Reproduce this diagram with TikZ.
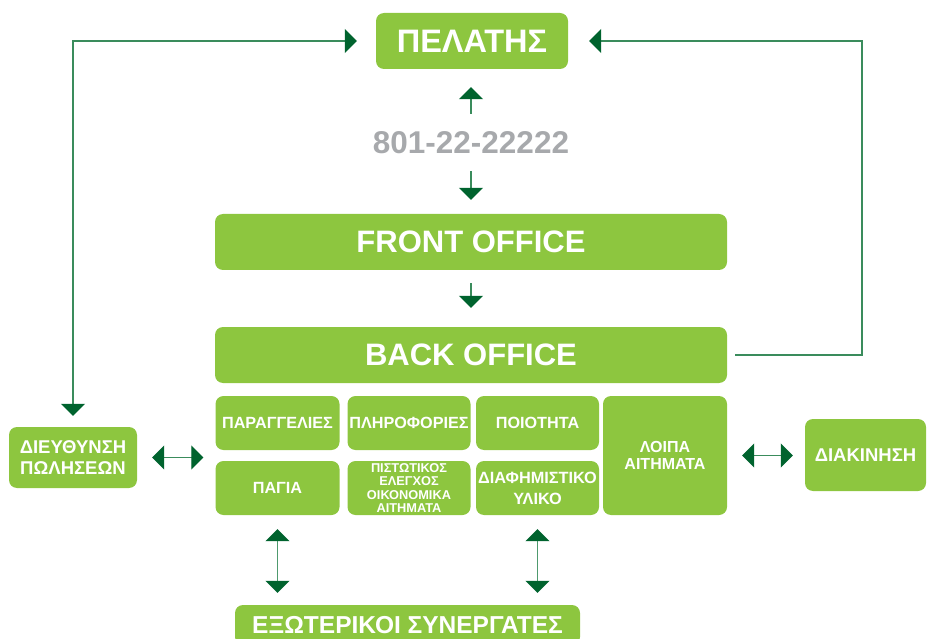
\documentclass[tikz,border=0pt]{standalone}
\usepackage{fontspec}
\setmainfont{Liberation Sans}
\usetikzlibrary{arrows.meta}
\definecolor{boxgreen}{HTML}{8DC63F}
\definecolor{tipgreen}{HTML}{00632E}
\definecolor{linegreen}{HTML}{3A8C5C}
\definecolor{linegreenB}{HTML}{4E9A6E}
\definecolor{phonegray}{HTML}{A7A9AC}
\newcommand{\fsz}[2]{\fontsize{#1}{#2}\selectfont\bfseries}
\begin{document}
\begin{tikzpicture}[x=1pt,y=-1pt,
  gbox/.style={fill=boxgreen, rounded corners=8pt, text=white, align=center, inner sep=0pt},
  conn/.style={draw=linegreen, line width=1.3pt, >={Triangle[length=12pt,width=24pt,color=tipgreen]}},
  connB/.style={draw=linegreenB, line width=1.8pt, >={Triangle[length=12pt,width=24pt,color=tipgreen]}}]
\useasboundingbox (0,0) rectangle (927,639);
\clip (0,0) rectangle (927,639);

% main column
\node[gbox, minimum width=192, minimum height=56, font=\fsz{32.5}{32.5}] (pel) at (472,41) {ΠΕΛΑΤΗΣ};
\node[inner sep=0pt, minimum height=56, text=phonegray, font=\fsz{31.5}{31.5}] (phone) at (471,143) {801-22-22222};
\node[gbox, minimum width=512, minimum height=56, font=\fsz{31}{31}] (front) at (471,242) {FRONT OFFICE};
\node[gbox, minimum width=512, minimum height=56, font=\fsz{31}{31}] (back) at (471,355) {BACK OFFICE};

% small boxes
\node[gbox, minimum width=124, minimum height=54, font=\fsz{16.2}{19}] (parag) at (277.5,423) {ΠΑΡΑΓΓΕΛΙΕΣ};
\node[gbox, minimum width=123, minimum height=54, font=\fsz{16.2}{19}] (plir) at (409,423) {ΠΛΗΡΟΦΟΡΙΕΣ};
\node[gbox, minimum width=123, minimum height=54, font=\fsz{16.2}{19}] (poiot) at (537.5,423) {ΠΟΙΟΤΗΤΑ};
\node[gbox, minimum width=124, minimum height=119, font=\fsz{16}{17.5}, text depth=-14pt] (loipa) at (665,455.5) {ΛΟΙΠΑ\\ΑΙΤΗΜΑΤΑ};
\node[gbox, minimum width=124, minimum height=54, font=\fsz{16.2}{19}] (pagia) at (277.5,488) {ΠΑΓΙΑ};
\node[gbox, minimum width=123, minimum height=54, font=\fsz{12.8}{13.2}] (pist) at (409,488) {ΠΙΣΤΩΤΙΚΟΣ\\ΕΛΕΓΧΟΣ\\ΟΙΚΟΝΟΜΙΚΑ\\ΑΙΤΗΜΑΤΑ};
\node[gbox, minimum width=123, minimum height=54, font=\fsz{16.3}{21}] (diaf) at (537.5,488) {ΔΙΑΦΗΜΙΣΤΙΚΟ\\ΥΛΙΚΟ};

% side boxes
\node[gbox, minimum width=128, minimum height=61, font=\fsz{18.5}{20.5}] (dieuth) at (73,457.5) {ΔΙΕΥΘΥΝΣΗ\\ΠΩΛΗΣΕΩΝ};
\node[gbox, minimum width=121, minimum height=72, font=\fsz{18.5}{20}] (diak) at (865.5,455) {ΔΙΑΚΙΝΗΣΗ};
\node[gbox, minimum width=345, minimum height=40, font=\fsz{24.5}{26}] (exot) at (407.5,625) {ΕΞΩΤΕΡΙΚΟΙ ΣΥΝΕΡΓΑΤΕΣ};

% connectors
\coordinate (rc) at (862,41);
\draw[conn,->,shorten <=1pt,shorten >=18pt] (phone.north) -- (phone.north |- pel.south);
\draw[conn,->,shorten >=14pt] (phone.south) -- (phone.south |- front.north);
\draw[conn,->,shorten <=13pt,shorten >=19pt] (front.south) -- (back.north);
\draw[conn,<->,shorten <=11pt,shorten >=19pt] (dieuth.north) |- (pel.west);
\draw[conn,->,shorten <=8pt,shorten >=21pt] (back.east) -| (rc) -- (pel.east);
\draw[conn,<->,shorten <=15pt,shorten >=12pt] (dieuth.east) -- (dieuth.east -| parag.west);
\draw[conn,<->,shorten <=15pt,shorten >=12pt] (loipa.east) -- (loipa.east -| diak.west);
\draw[connB,<->,shorten <=14pt,shorten >=12pt] (pagia.south) -- (pagia.south |- exot.north);
\draw[connB,<->,shorten <=14pt,shorten >=12pt] (diaf.south) -- (diaf.south |- exot.north);
\end{tikzpicture}
\end{document}
